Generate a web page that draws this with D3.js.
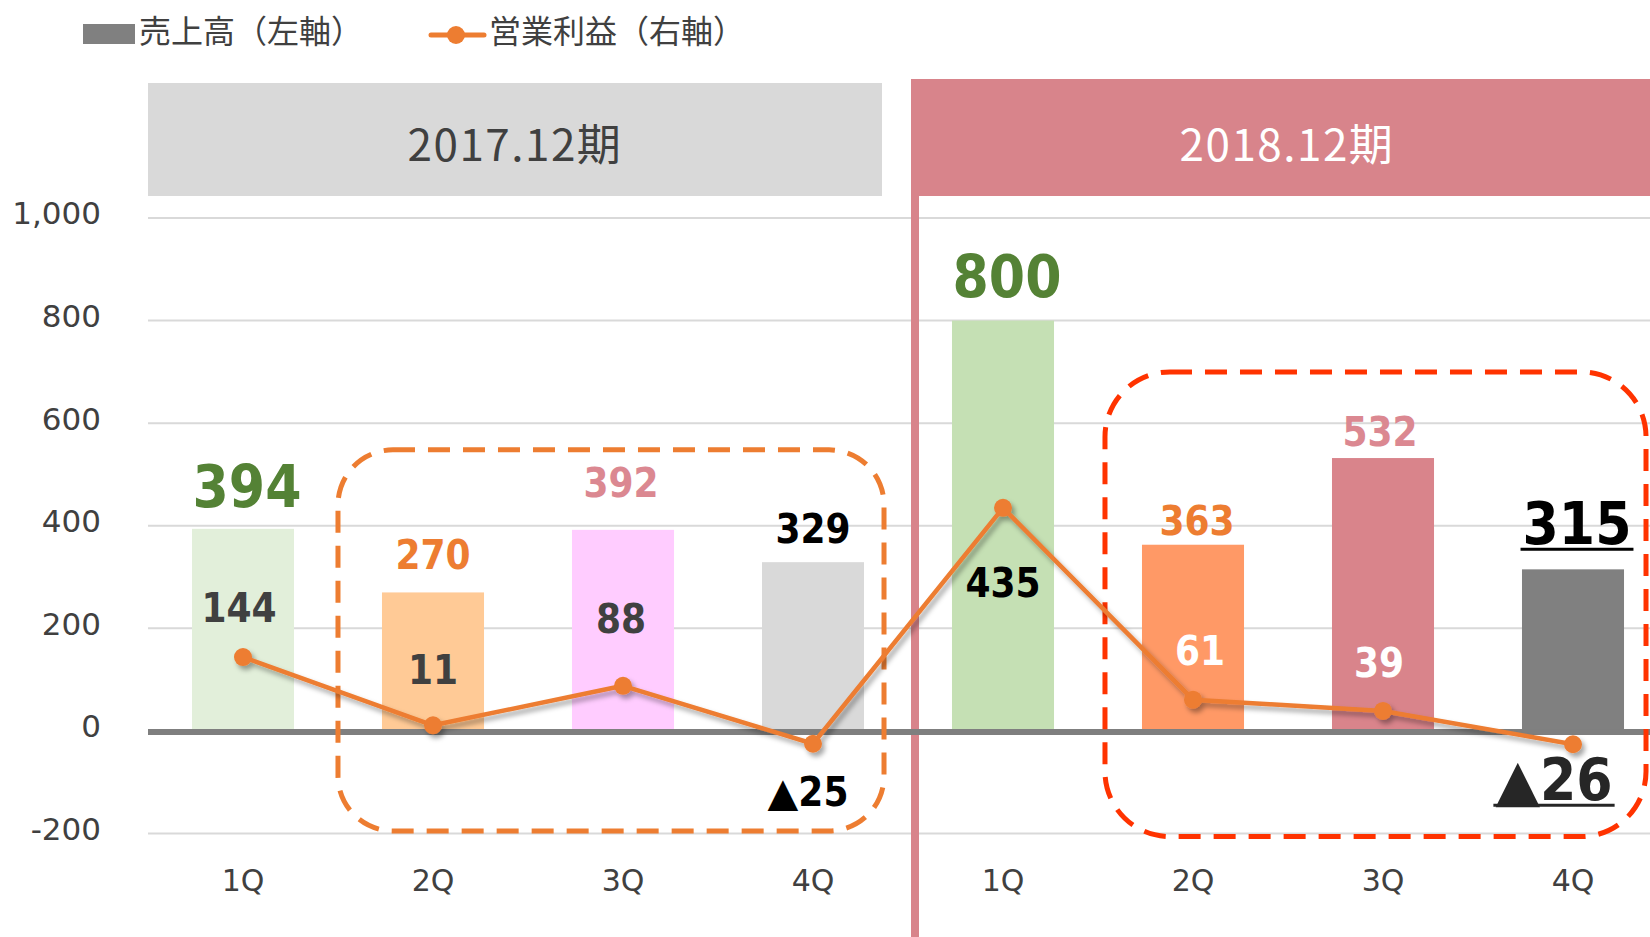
<!DOCTYPE html>
<html>
<head>
<meta charset="utf-8">
<script src="https://cdn.jsdelivr.net/npm/d3@7"></script>
<style>
  body { margin: 0; background: #fff; }
  svg { display: block; }
</style>
</head>
<body>
<div id="chart"></div>
<script>
// data
const periods = ["2017.12期", "2018.12期"];
const quarters = ["1Q", "2Q", "3Q", "4Q"];
const sales = [394, 270, 392, 329, 800, 363, 532, 315];     // 売上高（左軸）
const profit = [144, 11, 88, -25, 435, 61, 39, -26];       // 営業利益（右軸）
const yTicks = [-200, 0, 200, 400, 600, 800, 1000];

// looks
const barColors = ["#E2EFDA", "#FFCA96", "#FFCCFF", "#D9D9D9", "#C5E0B4", "#FF9966", "#D9848B", "#808080"];
const salesLabelStyle = [
    { fill: "#548235", size: 58, dx: 4, dy: -22 },
    { fill: "#ED7D31", size: 40, dx: 0, dy: -23 },
    { fill: "#DB8891", size: 40, dx: -2, dy: -33 },
    { fill: "#000000", size: 40, dx: 0, dy: -19 },
    { fill: "#548235", size: 58, dx: 4, dy: -24 },
    { fill: "#ED7D31", size: 40, dx: 4, dy: -10 },
    { fill: "#DB8891", size: 40, dx: -3, dy: -12 },
    { fill: "#000000", size: 58, dx: 4, dy: -25, underline: true }
];
const profitLabelStyle = [
    { fill: "#404040", size: 40, dx: -4, dy: -35 },
    { fill: "#404040", size: 40, dx: 0, dy: -41 },
    { fill: "#404040", size: 40, dx: -2, dy: -53 },
    { fill: "#000000", size: 40, dx: -5, dy: 62 },
    { fill: "#000000", size: 40, dx: 0, dy: 89 },
    { fill: "#FFFFFF", size: 40, dx: 7, dy: -35 },
    { fill: "#FFFFFF", size: 40, dx: -4, dy: -34 },
    { fill: "#262626", size: 58, dx: -19, dy: 56, underline: true }
];
// dashed highlight boxes (category index range and value range)
const boxes = [
    { from: 1, to: 3, top: 548, bottom: -195, color: "#ED7D31", padL: 44, padR: 20, r: 55 },
    { from: 5, to: 7, top: 700, bottom: -206, color: "#FF3300", padL: 37, padR: 22, r: 65 }
];

const W = 1650, H = 937;
const labelFont = "'DejaVu Sans Condensed', 'DejaVu Sans', sans-serif";
const tickFont = "'DejaVu Sans', Verdana, sans-serif";
const jpFont = "'Noto Sans CJK JP', sans-serif";

const svg = d3.select("#chart").append("svg")
    .attr("width", W)
    .attr("height", H);

const defs = svg.append("defs");
defs.append("filter").attr("id", "shadow")
    .attr("x", "-10%").attr("y", "-10%").attr("width", "120%").attr("height", "130%")
    .append("feDropShadow")
    .attr("dx", 3).attr("dy", 4).attr("stdDeviation", 2.5)
    .attr("flood-color", "#000").attr("flood-opacity", 0.35);

const idx = d3.range(sales.length);

// Scales
const x = d3.scaleBand()
    .domain(idx)
    .range([148, 1668])
    .paddingInner(0.463)
    .paddingOuter(0.2315);
const step = x.step();
const bw = x.bandwidth();
const cx = i => x(i) + bw / 2;

const y = d3.scaleLinear().domain([-200, 1000]).range([833.5, 218]);
const yRight = d3.scaleLinear().domain([-200, 1000]).range([833.5, 218]);

// Gridlines
svg.append("g")
    .selectAll("line")
    .data(yTicks.filter(d => d !== 0))
    .join("line")
    .attr("x1", 148).attr("x2", W)
    .attr("y1", d => y(d)).attr("y2", d => y(d))
    .attr("stroke", "#D9D9D9")
    .attr("stroke-width", 2);

// Left axis labels
const yAxis = svg.append("g")
    .attr("transform", "translate(101,-4)")
    .call(d3.axisLeft(y).tickValues(yTicks).tickSize(0).tickPadding(0)
        .tickFormat(d => d3.format(",")(d).replace("−", "-")));
yAxis.select(".domain").remove();
yAxis.selectAll("text")
    .style("font-family", tickFont)
    .style("font-size", "31px")
    .attr("fill", "#404040");

// Period headers
const groupStart = g => x(g * 4) - (step - bw) / 2;
const groupEnd = g => x(g * 4 + 3) + bw + (step - bw) / 2;

svg.append("rect")
    .attr("x", groupStart(0)).attr("y", 83)
    .attr("width", groupEnd(0) - groupStart(0) - 26).attr("height", 113)
    .attr("fill", "#D9D9D9");
svg.append("text")
    .attr("x", (groupStart(0) + groupEnd(0) - 26) / 2).attr("y", 142)
    .attr("text-anchor", "middle").attr("dominant-baseline", "central")
    .style("font-family", jpFont).style("font-size", "44px")
    .style("letter-spacing", "1.5px")
    .attr("fill", "#404040")
    .text(periods[0]);

const pinkX = groupStart(1) + 3;
svg.append("rect")
    .attr("x", pinkX).attr("y", 79)
    .attr("width", W - pinkX).attr("height", 117)
    .attr("fill", "#D8848B");
svg.append("rect")
    .attr("x", pinkX).attr("y", 190)
    .attr("width", 8).attr("height", H - 190)
    .attr("fill", "#D8848B");
svg.append("text")
    .attr("x", 1287).attr("y", 142)
    .attr("text-anchor", "middle").attr("dominant-baseline", "central")
    .style("font-family", jpFont).style("font-size", "44px")
    .style("letter-spacing", "1.5px")
    .attr("fill", "#FFFFFF")
    .text(periods[1]);

// Bars
svg.append("g")
    .selectAll("rect")
    .data(idx)
    .join("rect")
    .attr("x", i => x(i))
    .attr("width", bw)
    .attr("y", i => y(sales[i]))
    .attr("height", i => y(0) - y(sales[i]))
    .attr("fill", i => barColors[i]);

// Zero line
svg.append("line")
    .attr("x1", 148).attr("x2", W)
    .attr("y1", y(0) + 1).attr("y2", y(0) + 1)
    .attr("stroke", "#7F7F7F")
    .attr("stroke-width", 6);

// Dashed boxes
svg.append("g")
    .selectAll("rect")
    .data(boxes)
    .join("rect")
    .attr("x", b => x(b.from) - b.padL)
    .attr("width", b => x(b.to) + bw + b.padR - (x(b.from) - b.padL))
    .attr("y", b => y(b.top))
    .attr("height", b => y(b.bottom) - y(b.top))
    .attr("rx", b => b.r).attr("ry", b => b.r)
    .attr("fill", "none")
    .attr("stroke", b => b.color)
    .attr("stroke-width", 5)
    .attr("stroke-dasharray", "22 13");

// Profit line
const line = d3.line()
    .x(i => cx(i))
    .y(i => yRight(profit[i]));

const lineG = svg.append("g").attr("filter", "url(#shadow)");
lineG.append("path")
    .datum(idx)
    .attr("d", line)
    .attr("fill", "none")
    .attr("stroke", "#ED7D31")
    .attr("stroke-width", 4.5)
    .attr("stroke-linejoin", "round");
lineG.selectAll("circle")
    .data(idx)
    .join("circle")
    .attr("cx", i => cx(i))
    .attr("cy", i => yRight(profit[i]))
    .attr("r", 9)
    .attr("fill", "#ED7D31");

// Labels
function addLabels(values, scale, styles) {
    const g = svg.append("g");
    idx.forEach(i => {
        const s = styles[i];
        const v = values[i];
        const t = g.append("text")
            .attr("x", cx(i) + s.dx)
            .attr("y", scale(v) + s.dy)
            .attr("text-anchor", "middle")
            .style("font-family", labelFont)
            .style("font-weight", "bold")
            .style("font-size", s.size + "px")
            .attr("fill", s.fill);
        if (v < 0) {
            // 負の値は ▲ 表記
            t.append("tspan")
                .style("font-family", "'DejaVu Sans', sans-serif")
                .style("font-weight", "normal")
                .text("▲");
            t.append("tspan").text(Math.abs(v));
        } else {
            t.text(v);
        }
        if (s.underline) {
            const bb = t.node().getBBox();
            g.append("line")
                .attr("x1", bb.x - 2).attr("x2", bb.x + bb.width + 2)
                .attr("y1", scale(v) + s.dy + 5)
                .attr("y2", scale(v) + s.dy + 5)
                .attr("stroke", s.fill)
                .attr("stroke-width", 3);
        }
    });
}
addLabels(sales, y, salesLabelStyle);
addLabels(profit, yRight, profitLabelStyle);

// X labels
svg.append("g")
    .selectAll("text")
    .data(idx)
    .join("text")
    .attr("x", i => cx(i))
    .attr("y", 891)
    .attr("text-anchor", "middle")
    .style("font-family", tickFont)
    .style("font-size", "30px")
    .attr("fill", "#404040")
    .text(i => quarters[i % 4]);

// Legend
const legend = svg.append("g");
legend.append("rect")
    .attr("x", 83).attr("y", 24).attr("width", 52).attr("height", 20)
    .attr("fill", "#808080");
legend.append("text")
    .attr("x", 139).attr("y", 29)
    .attr("dominant-baseline", "central")
    .style("font-family", jpFont).style("font-size", "32px")
    .attr("fill", "#404040")
    .text("売上高（左軸）");
legend.append("line")
    .attr("x1", 431).attr("x2", 484).attr("y1", 35).attr("y2", 35)
    .attr("stroke", "#ED7D31").attr("stroke-width", 5).attr("stroke-linecap", "round");
legend.append("circle")
    .attr("cx", 456).attr("cy", 35).attr("r", 9)
    .attr("fill", "#ED7D31");
legend.append("text")
    .attr("x", 489).attr("y", 29)
    .attr("dominant-baseline", "central")
    .style("font-family", jpFont).style("font-size", "32px")
    .attr("fill", "#404040")
    .text("営業利益（右軸）");
</script>
</body>
</html>
